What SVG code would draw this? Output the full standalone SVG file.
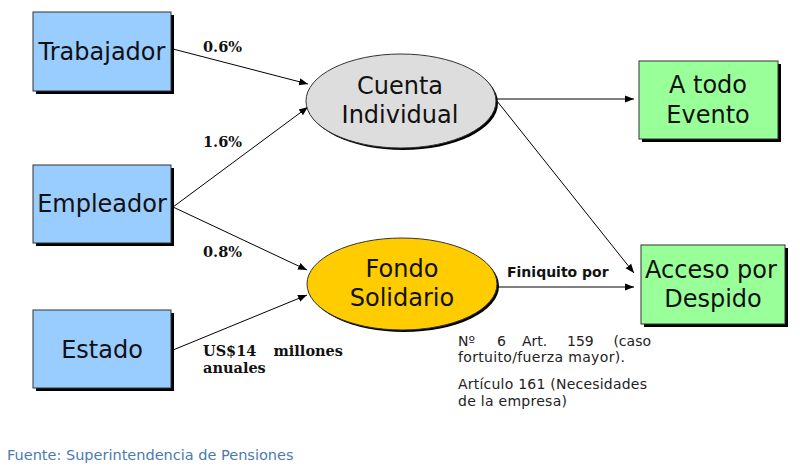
<svg xmlns="http://www.w3.org/2000/svg" width="800" height="469" viewBox="0 0 800 469">
<defs>
<marker id="ah" viewBox="0 0 10 10" refX="10" refY="5" markerWidth="9" markerHeight="9" markerUnits="userSpaceOnUse" orient="auto">
<path d="M0,1 L10,5 L0,9 z" fill="#000"/>
</marker>
</defs>
<style>
.box{stroke:#333;stroke-width:1}
.shadow{fill:#000}
.blue{fill:#99CCFF}
.green{fill:#99FF99}
.gray{fill:#DDDDDD}
.yellow{fill:#FFCC00}
.nt{font-family:"DejaVu Sans",Verdana,sans-serif;font-size:24px;fill:#111;text-anchor:middle}
.lbl{font-family:"DejaVu Serif",serif;font-weight:bold;font-size:14.5px;fill:#111}
.fin{font-family:"DejaVu Sans",sans-serif;font-weight:bold;font-size:14px;fill:#111}
.note{font-family:"DejaVu Sans",sans-serif;font-size:14px;fill:#222}
.src{font-family:"DejaVu Sans",Verdana,sans-serif;font-size:14.5px;fill:#4A7AB0}
.conn{stroke:#000;stroke-width:1;fill:none;marker-end:url(#ah)}
</style>
<rect width="800" height="469" fill="#fff"/>
<g id="connectors">
<line class="conn" x1="173" y1="49" x2="308" y2="84"/>
<line class="conn" x1="173" y1="207" x2="308" y2="107"/>
<line class="conn" x1="173" y1="207" x2="307" y2="270"/>
<line class="conn" x1="173" y1="350" x2="307" y2="295"/>
<line class="conn" x1="497" y1="99" x2="634" y2="99"/>
<line class="conn" x1="497" y1="101" x2="634" y2="273"/>
<line class="conn" x1="497" y1="287" x2="634" y2="287"/>
</g>
<g id="trabajador">
<rect class="shadow" x="36" y="15" width="138" height="79"/>
<rect class="box blue" x="33" y="12" width="138" height="79"/>
<text class="nt" x="102" y="60">Trabajador</text>
</g>
<g id="empleador">
<rect class="shadow" x="36" y="168" width="138" height="78"/>
<rect class="box blue" x="33" y="165" width="138" height="78"/>
<text class="nt" x="102" y="212">Empleador</text>
</g>
<g id="estado">
<rect class="shadow" x="36" y="313" width="138" height="78"/>
<rect class="box blue" x="33" y="310" width="138" height="78"/>
<text class="nt" x="102" y="358">Estado</text>
</g>
<g id="cuenta">
<ellipse class="shadow" cx="403" cy="103" rx="95" ry="47"/>
<ellipse class="box gray" cx="401" cy="101" rx="95" ry="47"/>
<text class="nt" x="400" y="94">Cuenta</text>
<text class="nt" x="400" y="123">Individual</text>
</g>
<g id="fondo">
<ellipse class="shadow" cx="404" cy="286" rx="95" ry="46"/>
<ellipse class="box yellow" cx="402" cy="284" rx="95" ry="46"/>
<text class="nt" x="402" y="277">Fondo</text>
<text class="nt" x="402" y="306">Solidario</text>
</g>
<g id="atodo">
<rect class="shadow" x="642" y="64" width="139" height="78"/>
<rect class="box green" x="639" y="61" width="139" height="78"/>
<text class="nt" x="708" y="93">A todo</text>
<text class="nt" x="708" y="123">Evento</text>
</g>
<g id="acceso">
<rect class="shadow" x="644" y="248" width="144" height="79"/>
<rect class="box green" x="641" y="245" width="144" height="79"/>
<text class="nt" x="711" y="278">Acceso por</text>
<text class="nt" x="713" y="307">Despido</text>
</g>
<g id="labels">
<text class="lbl" x="203" y="52">0.6%</text>
<text class="lbl" x="203" y="147">1.6%</text>
<text class="lbl" x="203" y="257">0.8%</text>
<text class="lbl" x="203" y="356">US$14</text>
<text class="lbl" x="343" y="356" text-anchor="end">millones</text>
<text class="lbl" x="203" y="373">anuales</text>
<text class="fin" x="507" y="277">Finiquito por</text>
<text class="note" x="458" y="346">Nº</text>
<text class="note" x="497" y="346">6</text>
<text class="note" x="522" y="346">Art.</text>
<text class="note" x="567" y="346">159</text>
<text class="note" x="651" y="346" text-anchor="end">(caso</text>
<text class="note" x="458" y="362" textLength="167">fortuito/fuerza mayor).</text>
<text class="note" x="458" y="389" textLength="189">Artículo 161 (Necesidades</text>
<text class="note" x="458" y="406" textLength="109">de la empresa)</text>
<text class="src" x="7" y="460">Fuente: Superintendencia de Pensiones</text>
</g>
</svg>
